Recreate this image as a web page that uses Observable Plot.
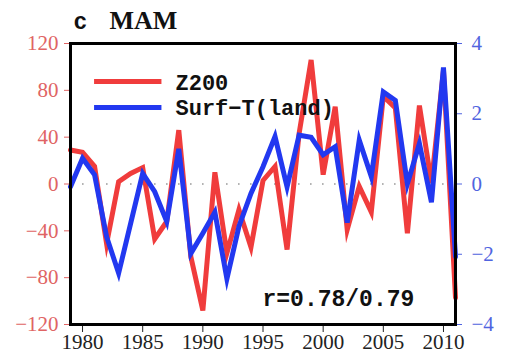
<!DOCTYPE html>
<html>
<head>
<meta charset="utf-8">
<script src="https://cdn.jsdelivr.net/npm/d3@7"></script>
<script src="https://cdn.jsdelivr.net/npm/@observablehq/plot@0.6"></script>
<style>
  html, body { margin: 0; padding: 0; background: #fff; }
</style>
</head>
<body>
<div id="chart"></div>
<script>
// Spring (MAM) anomalies, 1979–2011
const years = d3.range(1979, 2012);
const z200 = [29, 27, 15, -51, 2, 9, 14, -47, -32, 46, -62, -108, 10, -59, -22, -54, 3, 15, -56, 43,
  106, 8, 66, -39, -2, -24, 75, 65, -42, 67, 1, 97, -97];
const surfT = [-0.08, 0.73, 0.26, -1.5, -2.54, -1.12, 0.30, -0.22, -1.07, 1.0, -1.98, -1.4, -0.8,
  -2.7, -1.21, -0.27, 0.49, 1.35, -0.08, 1.39, 1.33, 0.83, 1.06, -1.1, 1.25, 0.21, 2.62, 2.38,
  0.0, 1.15, -0.52, 3.32, -2.07];

const seriesNames = ["Z200", "Surf\u2212T(land)"];
const leftTicks = [-120, -80, -40, 0, 40, 80, 120];
const rightTicks = [-4, -2, 0, 2, 4];
const xTicks = [1980, 1985, 1990, 1995, 2000, 2005, 2010];
const panelLetter = "c";
const panelTitle = "MAM";
const corrText = "r=0.78/0.79";

// the temperature series shares the left scale: 4 K ↔ 120 gpm
const ratio = 30;

const red = "#f03c3c";
const blue = "#2238f0";
const redLabel = "#e06464";
const blueLabel = "#5064e0";

const rows = years.map((yr, i) => ({year: yr, z: z200[i], t: surfT[i] * ratio}));

const minus = (v) => (v < 0 ? "\u2212" + Math.abs(v) : String(v));

// legend swatches (years along x, left-scale units along y)
const swatches = [
  {color: red, x1: 1981.0, x2: 1986.6, y: 87.5},
  {color: blue, x1: 1981.0, x2: 1986.6, y: 65.3}
];

const legendFont = {frameAnchor: "top-left", textAnchor: "start", lineAnchor: "bottom", dx: 105,
  fontFamily: "'Liberation Mono', monospace", fontWeight: "bold", fontSize: 22, fill: "#111"};

const chart = Plot.plot({
  width: 510,
  height: 361,
  marginLeft: 70,
  marginRight: 55,
  marginTop: 43,
  marginBottom: 37,
  style: {fontFamily: "'Liberation Serif', serif", fontSize: "21px", background: "#fff"},
  x: {domain: [1979, 2011]},
  y: {domain: [-120, 120]},
  marks: [
    Plot.ruleY([0], {stroke: "#9a9a9a", strokeWidth: 1.6, strokeDasharray: "1.6,10.4"}),
    Plot.line(rows, {x: "year", y: "z", stroke: red, strokeWidth: 5, strokeLinejoin: "miter", strokeMiterlimit: 6}),
    Plot.line(rows, {x: "year", y: "t", stroke: blue, strokeWidth: 5, strokeLinejoin: "miter", strokeMiterlimit: 6}),
    Plot.ruleY(swatches, {y: "y", x1: "x1", x2: "x2", stroke: "color", strokeWidth: 5}),
    Plot.text([seriesNames[0]], {...legendFont, text: (d) => d, dy: 46}),
    Plot.text([seriesNames[1]], {...legendFont, text: (d) => d, dy: 71}),
    Plot.text([corrText], {text: (d) => d, frameAnchor: "bottom-left", textAnchor: "start", lineAnchor: "bottom",
      dx: 192, dy: -19, fontFamily: "'Liberation Mono', monospace", fontWeight: "bold", fontSize: 23, fill: "#111"}),
    Plot.text([panelLetter], {text: (d) => d, frameAnchor: "top-left", textAnchor: "start", lineAnchor: "bottom",
      dx: 3, dy: -15, fontFamily: "'Liberation Mono', monospace", fontWeight: "bold", fontSize: 23, fill: "#111"}),
    Plot.text([panelTitle], {text: (d) => d, frameAnchor: "top-left", textAnchor: "start", lineAnchor: "bottom",
      dx: 39, dy: -15, fontFamily: "'Liberation Serif', serif", fontWeight: "bold", fontSize: 26, fill: "#111"}),
    Plot.axisY({anchor: "left", ticks: leftTicks, tickFormat: minus, tickSize: 6, tickPadding: 6,
      color: redLabel, label: null}),
    Plot.axisY({anchor: "right", ticks: rightTicks.map((v) => v * ratio), tickFormat: (v) => minus(v / ratio),
      tickSize: 6, tickPadding: 10, color: blueLabel, label: null}),
    Plot.axisX({anchor: "bottom", ticks: xTicks, tickFormat: (d) => String(d), tickSize: 8, tickPadding: 2,
      color: "#222", label: null}),
    Plot.frame({stroke: "#000", strokeWidth: 3})
  ]
});

document.getElementById("chart").appendChild(chart);
</script>
</body>
</html>
